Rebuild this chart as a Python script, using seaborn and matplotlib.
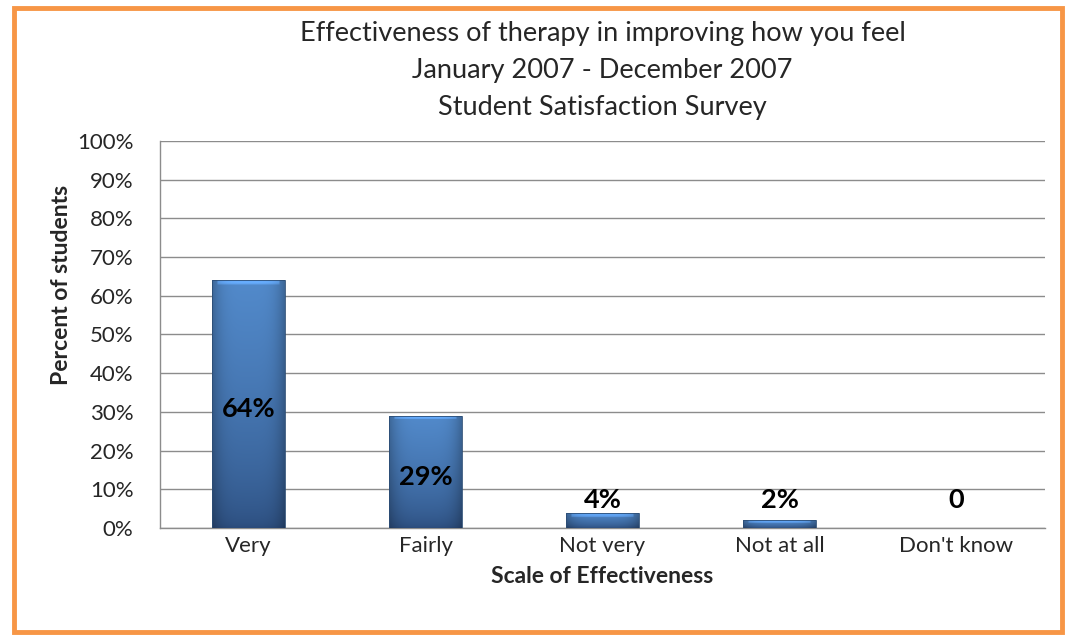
import numpy as np
import pandas as pd
import seaborn as sns
import matplotlib.pyplot as plt
from matplotlib.patches import Rectangle

# Data
categories = ['Very', 'Fairly', 'Not very', 'Not at all', "Don't know"]
percent = [0.64, 0.29, 0.04, 0.02, 0.0]
labels = ['64%', '29%', '4%', '2%', '0']

df = pd.DataFrame({'Scale': categories, 'Percent': percent})

sns.set_style('white')
plt.rcParams['font.family'] = ['Lato', 'DejaVu Sans']

fig = plt.figure(figsize=(10.76, 6.4), dpi=100)
ax = fig.add_axes([0.1487, 0.175, 0.8225, 0.6047])

sns.barplot(data=df, x='Scale', y='Percent', color='#4A7EBB', width=0.41,
            edgecolor='#2C4D75', linewidth=0.6, ax=ax, zorder=3)

# bevelled blue shading for each bar (RGB image clipped to the bar)
top = np.array([0x52, 0x8A, 0xCB]) / 255
bot = np.array([0x2B, 0x4C, 0x7C]) / 255
xs = np.linspace(0, 1, 80)
edge = 1 - 0.25 * (np.abs(xs - 0.5) * 2) ** 4

for bar in ax.patches:
    h = bar.get_height()
    if h <= 0:
        continue
    x0 = bar.get_x()
    w = bar.get_width()
    ny = 120
    t = np.linspace(0, 1, ny) ** 0.6
    col = bot[None, :] * (1 - t[:, None]) + top[None, :] * t[:, None]
    img = col[:, None, :] * edge[None, :, None]
    # light bevel at top
    bev = max(1, int(ny * min(0.012 / h, 0.35)))
    img[-bev:, 6:-6, :] = np.clip(img[-bev:, 6:-6, :] * 1.25, 0, 1)
    im = ax.imshow(img, aspect='auto', extent=[x0, x0 + w, 0, h],
                   origin='lower', zorder=3.5, interpolation='bilinear')
    im.set_clip_path(bar)
    bar.set_zorder(4)
    bar.set_facecolor('none')

ax.set_xlim(-0.5, 4.5)
ax.set_ylim(0, 1.0)
yt = np.arange(0, 1.01, 0.1)
ax.set_yticks(yt)
ax.set_yticklabels([f'{int(round(v * 100))}%' for v in yt])
ax.yaxis.grid(True, color='#8C8C8C', linewidth=1.0, zorder=0)
ax.set_axisbelow(True)

# x ticks between categories
ax.set_xticks(np.arange(-0.5, 4.6, 1.0), minor=False)
ax.set_xticklabels([''] * 6)
ax.set_xticks(np.arange(5), minor=True)
ax.set_xticklabels(categories, minor=True)
ax.tick_params(axis='x', which='major', length=6, width=1, color='#8C8C8C', direction='out')
ax.tick_params(axis='x', which='minor', length=0, pad=6, labelsize=16)
ax.tick_params(axis='y', length=7, width=1, color='#8C8C8C', direction='out', labelsize=16, pad=12)

for side in ['top', 'right']:
    ax.spines[side].set_visible(False)
for side in ['left', 'bottom']:
    ax.spines[side].set_color('#8C8C8C')
    ax.spines[side].set_linewidth(1.0)

ax.set_xlabel('Scale of Effectiveness', fontsize=16.5, fontweight='bold', labelpad=7)
ax.set_ylabel('Percent of students', fontsize=16.5, fontweight='bold')
ax.yaxis.set_label_coords(-0.100, 0.628)

# value labels
for i, (v, t) in enumerate(zip(percent, labels)):
    y = v / 2 - 0.012 if v > 0.1 else 0.072
    ax.text(i, y, t, ha='center', va='center', fontsize=19.5, fontweight='bold',
            color='black', zorder=6)

ax.set_title('Effectiveness of therapy in improving how you feel\n'
             'January 2007 - December 2007\nStudent Satisfaction Survey',
             fontsize=19.5, linespacing=1.58, pad=19)

# orange frame
fig.patches.append(Rectangle((0.013, 0.012), 0.974, 0.975, transform=fig.transFigure,
                             fill=False, edgecolor='#F79646', linewidth=3.5))

fig.savefig('out.png', dpi=100)
